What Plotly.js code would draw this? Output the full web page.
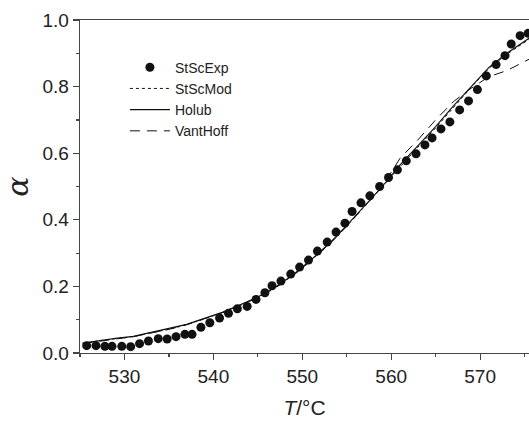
<!DOCTYPE html>
<html>
<head>
<meta charset="utf-8">
<script src="https://cdn.plot.ly/plotly-3.0.1.min.js"></script>
<style>html,body{margin:0;padding:0;background:#fff;overflow:hidden}#chart{width:529px;height:421px}</style>
</head>
<body>
<div id="chart"></div>
<script>
// Experimental points (StScExp)
const expT = [525.75,526.8,527.8,528.6,529.7,530.7,531.7,532.7,533.8,534.8,535.8,536.8,537.6,538.6,539.6,540.7,541.7,542.7,543.8,544.8,545.8,546.6,547.6,548.7,549.7,550.7,551.7,552.8,553.8,554.8,555.6,556.6,557.6,558.7,559.7,560.7,561.7,562.8,563.8,564.6,565.6,566.6,567.7,568.7,569.7,570.7,571.8,572.8,573.5,574.5,575.4];
const expA = [0.022,0.022,0.020,0.020,0.020,0.019,0.028,0.036,0.043,0.042,0.049,0.056,0.056,0.077,0.091,0.105,0.119,0.133,0.140,0.161,0.181,0.202,0.216,0.237,0.258,0.279,0.306,0.333,0.363,0.390,0.425,0.451,0.472,0.500,0.527,0.550,0.577,0.598,0.625,0.646,0.673,0.694,0.730,0.757,0.791,0.832,0.866,0.893,0.928,0.953,0.960];

// Model curves
const modT = [525.3,527,529,531,533,535,537,539,541,543,545,547,549,551,553,555,557,559,561,563,565,567,569,571,573,575.5];
const stscMod = [0.028,0.036,0.043,0.049,0.061,0.071,0.085,0.103,0.121,0.143,0.166,0.196,0.234,0.278,0.326,0.381,0.441,0.498,0.558,0.618,0.676,0.738,0.798,0.855,0.897,0.942];
const holub = [0.030,0.037,0.044,0.050,0.062,0.072,0.086,0.104,0.122,0.145,0.168,0.198,0.236,0.280,0.328,0.383,0.443,0.500,0.565,0.622,0.680,0.742,0.800,0.858,0.900,0.945];
const vantHoff = [0.028,0.035,0.042,0.049,0.060,0.071,0.085,0.103,0.121,0.143,0.166,0.196,0.233,0.277,0.325,0.380,0.440,0.500,0.585,0.640,0.700,0.755,0.795,0.830,0.848,0.882];

const xTicks = [530,540,550,560,570];
const yTicks = [0.0,0.2,0.4,0.6,0.8,1.0];

const lineCol = '#111';
const traces = [
  {x: expT, y: expA, name: 'StScExp', mode: 'markers', type: 'scatter',
   marker: {size: 9, color: '#111'}},
  {x: modT, y: stscMod, name: 'StScMod', mode: 'lines', type: 'scatter',
   line: {color: lineCol, width: 1, dash: '3px,3px'}},
  {x: modT, y: holub, name: 'Holub', mode: 'lines', type: 'scatter',
   line: {color: lineCol, width: 1.1}},
  {x: modT, y: vantHoff, name: 'VantHoff', mode: 'lines', type: 'scatter',
   line: {color: lineCol, width: 1, dash: '10px,7px'}}
];

const fontFam = '"Liberation Sans", Arial, sans-serif';
const layout = {
  width: 529, height: 421,
  margin: {l: 80, r: 0, t: 20, b: 68},
  paper_bgcolor: '#fff', plot_bgcolor: '#fff',
  font: {family: fontFam, color: '#222', size: 19},
  showlegend: true,
  legend: {x: 0.1, y: 0.905, xanchor: 'left', yanchor: 'top',
    bgcolor: 'rgba(0,0,0,0)', font: {size: 14, color: '#222'},
    itemwidth: 40, tracegroupgap: 0},
  xaxis: {
    range: [525, 575.5], tickvals: xTicks, ticktext: xTicks.map(String),
    showline: true, linecolor: '#444', linewidth: 1.3, mirror: true,
    ticks: 'outside', ticklen: 6, tickcolor: '#444', tickwidth: 1.2,
    minor: {dtick: 5, tick0: 525, ticks: 'outside', ticklen: 3, tickcolor: '#444'},
    showgrid: false, zeroline: false,
    tickfont: {size: 19, color: '#222'},
    title: {text: '<i>T</i>/°C', font: {size: 21, color: '#222'}, standoff: 14}
  },
  yaxis: {
    range: [0, 1], tickvals: yTicks, ticktext: yTicks.map(v => v.toFixed(1)),
    showline: true, linecolor: '#444', linewidth: 1.3,
    ticks: 'outside', ticklen: 6, tickcolor: '#444', tickwidth: 1.2,
    minor: {dtick: 0.1, tick0: 0, ticks: 'outside', ticklen: 3, tickcolor: '#444'},
    showgrid: false, zeroline: false,
    tickfont: {size: 19, color: '#222'},
    title: {text: '<i>α</i>', font: {size: 30, color: '#222', family: '"DejaVu Serif", "Liberation Serif", serif'}, standoff: 16}
  }
};

Plotly.newPlot('chart', traces, layout, {displayModeBar: false, staticPlot: true});
</script>
</body>
</html>
